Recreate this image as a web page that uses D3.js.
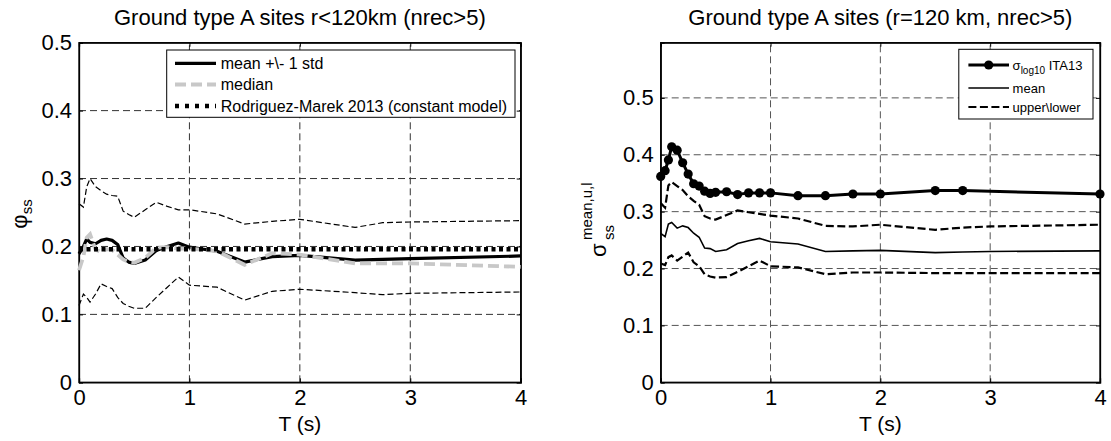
<!DOCTYPE html>
<html>
<head>
<meta charset="utf-8">
<script src="https://cdn.jsdelivr.net/npm/d3@7"></script>
<style>
  body { margin: 0; background: #fff; }
  svg { display: block; font-family: "Liberation Sans", Arial, sans-serif; }
</style>
</head>
<body>
<script>
// periods (s)
const periods = [0, 0.04, 0.07, 0.1, 0.15, 0.2, 0.25, 0.3, 0.35, 0.4, 0.45, 0.5, 0.6, 0.7, 0.8, 0.9, 1.0, 1.25, 1.5, 1.75, 2.0, 2.5, 2.75, 3.0, 4.0]

// left panel: phi_ss, r<120km
const phiMean   = [0.189, 0.200, 0.211, 0.206, 0.204, 0.209, 0.211, 0.209, 0.203, 0.183, 0.177, 0.175, 0.180, 0.194, 0.200, 0.205, 0.199, 0.193, 0.177, 0.185, 0.187, 0.180, 0.181, 0.182, 0.186]
const phiUpper  = [0.263, 0.258, 0.288, 0.300, 0.288, 0.282, 0.277, 0.275, 0.274, 0.252, 0.247, 0.243, 0.254, 0.265, 0.259, 0.254, 0.254, 0.248, 0.233, 0.237, 0.240, 0.228, 0.235, 0.236, 0.238]
const phiLower  = [0.113, 0.130, 0.125, 0.118, 0.130, 0.145, 0.141, 0.138, 0.125, 0.116, 0.112, 0.109, 0.109, 0.125, 0.140, 0.155, 0.143, 0.140, 0.121, 0.134, 0.137, 0.132, 0.129, 0.131, 0.133]
const phiMedian = [0.165, 0.185, 0.213, 0.218, 0.195, 0.192, 0.196, 0.195, 0.188, 0.181, 0.177, 0.176, 0.183, 0.198, 0.199, 0.197, 0.197, 0.193, 0.173, 0.190, 0.188, 0.175, 0.175, 0.175, 0.170]
const rodriguezPhi = 0.196

// right panel: sigma_ss, r=120 km
const sigMean  = [0.262, 0.256, 0.278, 0.281, 0.271, 0.275, 0.272, 0.262, 0.255, 0.236, 0.235, 0.230, 0.233, 0.244, 0.249, 0.253, 0.247, 0.243, 0.230, 0.231, 0.232, 0.228, 0.229, 0.230, 0.231]
const sigUpper = [0.315, 0.307, 0.346, 0.352, 0.345, 0.338, 0.327, 0.319, 0.312, 0.292, 0.288, 0.286, 0.294, 0.302, 0.299, 0.296, 0.293, 0.288, 0.275, 0.274, 0.277, 0.268, 0.272, 0.274, 0.277]
const sigLower = [0.209, 0.206, 0.220, 0.223, 0.214, 0.221, 0.228, 0.211, 0.204, 0.190, 0.186, 0.184, 0.185, 0.194, 0.204, 0.214, 0.204, 0.202, 0.190, 0.193, 0.193, 0.192, 0.192, 0.192, 0.192]

// ITA13 sigma (log10)
const itaPeriods = [0, 0.04, 0.07, 0.1, 0.15, 0.2, 0.25, 0.3, 0.35, 0.4, 0.45, 0.5, 0.6, 0.7, 0.8, 0.9, 1.0, 1.25, 1.5, 1.75, 2.0, 2.5, 2.75, 4.0]
const itaSigma   = [0.362, 0.372, 0.391, 0.414, 0.408, 0.386, 0.366, 0.349, 0.345, 0.336, 0.332, 0.334, 0.335, 0.330, 0.333, 0.333, 0.333, 0.328, 0.328, 0.331, 0.331, 0.337, 0.337, 0.331]

const xTicks = [0, 1, 2, 3, 4]
const yTicks = [0, 0.1, 0.2, 0.3, 0.4, 0.5]

const W = 1111, H = 441
const svg = d3.select('body').append('svg').attr('width', W).attr('height', H)

function panel(opts) {
  const x = d3.scaleLinear().domain([0, 4]).range([opts.left, opts.right])
  const y = d3.scaleLinear().domain([0, opts.ymax]).range([382.3, 42.7])
  const g = svg.append('g')

  // grid
  g.selectAll('.gx').data(xTicks.filter(d => d > 0 && d < 4)).enter().append('line')
    .attr('x1', d => x(d)).attr('x2', d => x(d)).attr('y1', y.range()[0]).attr('y2', y.range()[1])
    .attr('stroke', opts.gridColor).attr('stroke-width', 1).attr('stroke-dasharray', '7,4')
  g.selectAll('.gy').data(yTicks.filter(d => d > 0 && y(d) > 44)).enter().append('line')
    .attr('x1', opts.left).attr('x2', opts.right).attr('y1', d => y(d)).attr('y2', d => y(d))
    .attr('stroke', opts.gridColor).attr('stroke-width', 1).attr('stroke-dasharray', '7,4')

  // axes (inner ticks on all sides)
  const bottom = d3.axisBottom(x).tickValues(xTicks).tickSize(-4).tickPadding(7).tickFormat(d3.format('d'))
  const top = d3.axisTop(x).tickValues(xTicks).tickSize(-4).tickFormat('')
  const leftAx = d3.axisLeft(y).tickValues(yTicks).tickSize(-4).tickPadding(7).tickFormat(d => d === 0 ? '0' : d3.format('.1f')(d))
  const rightAx = d3.axisRight(y).tickValues(yTicks).tickSize(-4).tickFormat('')

  g.append('g').attr('transform', `translate(0,${y.range()[0]})`).call(bottom)
  g.append('g').attr('transform', `translate(0,${y.range()[1]})`).call(top)
  g.append('g').attr('transform', `translate(${opts.left},0)`).call(leftAx)
  g.append('g').attr('transform', `translate(${opts.right},0)`).call(rightAx)
  g.selectAll('.domain').attr('stroke', '#000').attr('stroke-width', 1.3)
  g.selectAll('.tick line').attr('stroke', '#000').attr('stroke-width', 1)
  g.selectAll('.tick text').attr('font-size', 22).attr('fill', '#000')
    .attr('font-family', '"Liberation Sans", Arial, sans-serif')

  // box round the plot area
  g.append('rect').attr('x', opts.left).attr('y', y.range()[1])
    .attr('width', opts.right - opts.left).attr('height', y.range()[0] - y.range()[1])
    .attr('fill', 'none').attr('stroke', '#000').attr('stroke-width', 1.3)

  // title and x label
  g.append('text').attr('x', (opts.left + opts.right) / 2).attr('y', 25)
    .attr('text-anchor', 'middle').attr('font-size', 22).text(opts.title)
  g.append('text').attr('x', (opts.left + opts.right) / 2).attr('y', 431)
    .attr('text-anchor', 'middle').attr('font-size', 21).text('T (s)')

  return { g, x, y }
}

// ---------- left ----------
const L = panel({ left: 79, right: 520.7, ymax: 0.5, gridColor: '#333',
  title: 'Ground type A sites r<120km (nrec>5)' })

const lineL = arr => d3.line().x((d, i) => L.x(periods[i])).y(d => L.y(d))(arr)

L.g.append('path').attr('d', lineL(phiUpper)).attr('fill', 'none')
  .attr('stroke', '#000').attr('stroke-width', 1.2).attr('stroke-dasharray', '6,3')
L.g.append('path').attr('d', lineL(phiLower)).attr('fill', 'none')
  .attr('stroke', '#000').attr('stroke-width', 1.2).attr('stroke-dasharray', '6,3')
L.g.append('path').attr('d', lineL(phiMean)).attr('fill', 'none')
  .attr('stroke', '#000').attr('stroke-width', 3.2).attr('stroke-linejoin', 'round')
L.g.append('path').attr('d', lineL(phiMedian)).attr('fill', 'none')
  .attr('stroke', '#c8c8c8').attr('stroke-width', 3.8).attr('stroke-dasharray', '11,5')
L.g.append('line').attr('x1', L.x(0)).attr('x2', L.x(4))
  .attr('y1', L.y(rodriguezPhi)).attr('y2', L.y(rodriguezPhi))
  .attr('stroke', '#000').attr('stroke-width', 4.5).attr('stroke-dasharray', '4,3.5')

// y label phi_ss
const ylabL = L.g.append('text').attr('transform', 'translate(27,214) rotate(-90)')
  .attr('text-anchor', 'middle').attr('font-size', 22)
ylabL.append('tspan').text('φ')
ylabL.append('tspan').attr('font-size', 15).attr('dy', 5).text('ss')

// legend left
const legL = L.g.append('g')
legL.append('rect').attr('x', 166.7).attr('y', 50).attr('width', 348.3).attr('height', 67.3)
  .attr('fill', '#fff').attr('stroke', '#000').attr('stroke-width', 1)
const legLItems = [
  { label: 'mean +\\- 1 std', color: '#000', width: 3.2, dash: null },
  { label: 'median', color: '#c8c8c8', width: 3.8, dash: '11,5' },
  { label: 'Rodriguez-Marek 2013 (constant model)', color: '#000', width: 4.5, dash: '4,6' }
]
const legLRows = [63.3, 84.5, 106]
legLItems.forEach((it, i) => {
  legL.append('line').attr('x1', 175).attr('x2', 216).attr('y1', legLRows[i]).attr('y2', legLRows[i])
    .attr('stroke', it.color).attr('stroke-width', it.width).attr('stroke-dasharray', it.dash)
  legL.append('text').attr('x', 220.7).attr('y', legLRows[i]).attr('dy', '0.35em')
    .attr('font-size', 16).text(it.label)
})

// ---------- right ----------
const R = panel({ left: 660.7, right: 1100, ymax: 0.597, gridColor: '#555',
  title: 'Ground type A sites (r=120 km, nrec>5)' })

const lineR = arr => d3.line().x((d, i) => R.x(periods[i])).y(d => R.y(d))(arr)

R.g.append('path').attr('d', lineR(sigUpper)).attr('fill', 'none')
  .attr('stroke', '#000').attr('stroke-width', 2.2).attr('stroke-dasharray', '8,3.5')
R.g.append('path').attr('d', lineR(sigLower)).attr('fill', 'none')
  .attr('stroke', '#000').attr('stroke-width', 2.2).attr('stroke-dasharray', '8,3.5')
R.g.append('path').attr('d', lineR(sigMean)).attr('fill', 'none')
  .attr('stroke', '#000').attr('stroke-width', 1.6)
const itaLine = d3.line().x((d, i) => R.x(itaPeriods[i])).y(d => R.y(d))
R.g.append('path').attr('d', itaLine(itaSigma)).attr('fill', 'none')
  .attr('stroke', '#000').attr('stroke-width', 3)
R.g.selectAll('.ita').data(itaSigma).enter().append('circle')
  .attr('cx', (d, i) => R.x(itaPeriods[i])).attr('cy', d => R.y(d)).attr('r', 4.6).attr('fill', '#000')

// y label sigma_ss^{mean,u,l}
const ylabR = R.g.append('g').attr('transform', 'translate(606,257) rotate(-90)')
ylabR.append('text').attr('x', 0).attr('y', 0).attr('font-size', 22).text('σ')
ylabR.append('text').attr('x', 17).attr('y', -14).attr('font-size', 15).text('mean,u,l')
ylabR.append('text').attr('x', 17).attr('y', 8).attr('font-size', 15).text('ss')

// legend right
const legR = R.g.append('g')
legR.append('rect').attr('x', 958.8).attr('y', 49.3).attr('width', 134.2).attr('height', 69.7)
  .attr('fill', '#fff').attr('stroke', '#000').attr('stroke-width', 1)
const legRRows = [65, 88, 107]
legR.append('line').attr('x1', 968.4).attr('x2', 1009).attr('y1', legRRows[0]).attr('y2', legRRows[0])
  .attr('stroke', '#000').attr('stroke-width', 3)
legR.append('circle').attr('cx', 988.7).attr('cy', legRRows[0]).attr('r', 4.6).attr('fill', '#000')
const t1 = legR.append('text').attr('x', 1012.6).attr('y', legRRows[0]).attr('dy', '0.35em').attr('font-size', 13)
t1.append('tspan').text('σ')
t1.append('tspan').attr('font-size', 10).attr('dy', 4).text('log10')
t1.append('tspan').attr('dy', -4).text(' ITA13')
legR.append('line').attr('x1', 968.4).attr('x2', 1009).attr('y1', legRRows[1]).attr('y2', legRRows[1])
  .attr('stroke', '#000').attr('stroke-width', 1.6)
legR.append('text').attr('x', 1012.6).attr('y', legRRows[1]).attr('dy', '0.35em').attr('font-size', 13).text('mean')
legR.append('line').attr('x1', 968.4).attr('x2', 1009).attr('y1', legRRows[2]).attr('y2', legRRows[2])
  .attr('stroke', '#000').attr('stroke-width', 2.2).attr('stroke-dasharray', '8,3.5')
legR.append('text').attr('x', 1012.6).attr('y', legRRows[2]).attr('dy', '0.35em').attr('font-size', 13).text('upper\\lower')
</script>
</body>
</html>
